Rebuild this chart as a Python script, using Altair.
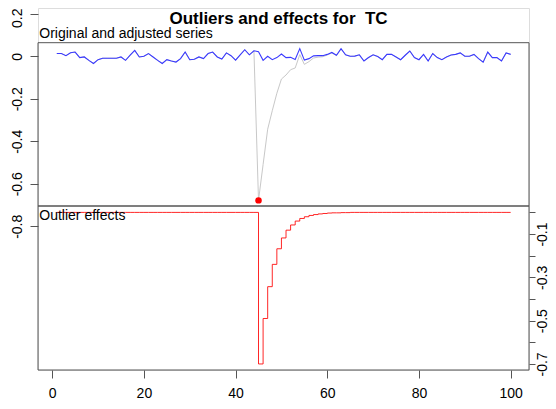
import altair as alt
import pandas as pd

# ---- data ----
t = list(range(1, 101))

adjusted = [
    0.013, 0.013, 0.003, 0.017, 0.020, -0.006, -0.003, -0.019, -0.034, -0.016,
    -0.009, -0.009, -0.009, -0.009, -0.003, -0.019, 0.005, 0.028, -0.003, 0.000,
    0.013, -0.003, -0.019, -0.034, -0.016, -0.022, -0.027, -0.011, 0.020, -0.016,
    -0.014, -0.003, -0.011, 0.013, 0.020, -0.003, -0.013, 0.016, 0.003, -0.018,
    0.007, 0.031, 0.007, 0.026, 0.022, -0.019, 0.000, -0.016, -0.006, 0.011,
    -0.006, -0.005, -0.015, 0.036, -0.018, -0.011, 0.002, 0.003, 0.003, 0.009,
    0.018, 0.005, 0.036, 0.007, 0.000, 0.001, 0.007, -0.022, -0.006, 0.007,
    -0.001, -0.016, 0.009, 0.009, -0.003, -0.016, 0.005, 0.025, -0.006, -0.016,
    0.009, -0.022, 0.013, -0.006, -0.016, -0.003, 0.006, 0.009, 0.016, 0.000,
    0.000, 0.009, -0.011, -0.028, 0.020, -0.006, -0.006, -0.022, 0.016, 0.009,
]

effects = [
    0.0, 0.0, 0.0, 0.0, 0.0, 0.0, 0.0, 0.0, 0.0, 0.0,
    0.0, 0.0, 0.0, 0.0, 0.0, 0.0, 0.0, 0.0, 0.0, 0.0,
    0.0, 0.0, 0.0, 0.0, 0.0, 0.0, 0.0, 0.0, 0.0, 0.0,
    0.0, 0.0, 0.0, 0.0, 0.0, 0.0, 0.0, 0.0, 0.0, 0.0,
    0.0, 0.0, 0.0, 0.0, -0.700, -0.490, -0.343, -0.240, -0.168, -0.118,
    -0.082, -0.058, -0.040, -0.028, -0.020, -0.014, -0.010, -0.007, -0.005, -0.003,
    -0.002, -0.002, -0.001, -0.001, 0.0, 0.0, 0.0, 0.0, 0.0, 0.0,
    0.0, 0.0, 0.0, 0.0, 0.0, 0.0, 0.0, 0.0, 0.0, 0.0,
    0.0, 0.0, 0.0, 0.0, 0.0, 0.0, 0.0, 0.0, 0.0, 0.0,
    0.0, 0.0, 0.0, 0.0, 0.0, 0.0, 0.0, 0.0, 0.0, 0.0,
]

x_ticks = [0, 20, 40, 60, 80, 100]
left_ticks = [0.2, 0.0, -0.2, -0.4, -0.6, -0.8]
right_ticks = [0.0, -0.1, -0.2, -0.3, -0.4, -0.5, -0.6, -0.7]

title_text = "Outliers and effects for\u00a0 TC"
top_label = "Original and adjusted series"
bottom_label = "Outlier effects"

df = pd.DataFrame({"t": t, "adjusted": adjusted, "effect": effects})
df["original"] = df["adjusted"] + df["effect"]
outliers = df[df["effect"] == df["effect"].min()]

FONT = "Liberation Sans"
W, H = 491, 362
AXC = "#555555"

xscale = alt.Scale(domain=[-3.1, 104], nice=False, zero=False)
yL = alt.Scale(domain=[-1.4762, 0.2273], nice=False, zero=False)
yR = alt.Scale(domain=[-0.7279, 0.9441], nice=False, zero=False)

num_label = "(datum.value < 0 ? '-' : '') + format(abs(datum.value), '~g')"

left_axis = alt.Axis(
    orient="left", values=left_ticks, labelExpr=num_label, labelAngle=270,
    labelAlign="center", labelBaseline="bottom", labelPadding=6, tickSize=8,
    labelOffset={"condition": {"test": "datum.value > 0.1", "value": 4}, "value": 0},
    tickColor=AXC, domain=False, grid=False, title=None, labelFontSize=14,
    labelFont=FONT, labelColor="black", labelOverlap=False, labelFlush=False,
)
right_axis = alt.Axis(
    orient="right", values=right_ticks,
    labelExpr="round(abs(datum.value) * 10) % 2 == 1 ? " + num_label + " : ''",
    labelAngle=270, labelAlign="center", labelBaseline="top", labelPadding=0,
    tickSize=6, tickColor=AXC, domain=False, grid=False, title=None,
    labelFontSize=14, labelFont=FONT, labelColor="black", labelOverlap=False,
    labelFlush=False,
)
x_axis = alt.Axis(
    orient="bottom", values=x_ticks, tickSize=8, tickColor=AXC, labelPadding=8,
    domain=False, grid=False, title=None, labelFontSize=14, labelFont=FONT,
    labelColor="black", labelFlush=False, labelOverlap=False,
)

base = alt.Chart(df)
x_enc = alt.X("t:Q", scale=xscale, axis=x_axis)

one = pd.DataFrame({"k": [0]})
boxes = alt.layer(
    alt.Chart(one).mark_rect(fillOpacity=0, stroke=AXC, strokeWidth=1).encode(
        x=alt.value(0), x2=alt.value(W), y=alt.value(34.7), y2=alt.value(198)),
    alt.Chart(one).mark_rect(fillOpacity=0, stroke=AXC, strokeWidth=1).encode(
        x=alt.value(0), x2=alt.value(W), y=alt.value(198), y2=alt.value(H)),
)

grey = base.mark_line(color="#c8c8c8", strokeWidth=1).encode(
    x=x_enc, y=alt.Y("original:Q", scale=yL, axis=left_axis))
blue = base.mark_line(color="#3a3aff", strokeWidth=1.1).encode(
    x=x_enc, y=alt.Y("adjusted:Q", scale=yL, axis=None))
dot = alt.Chart(outliers).mark_circle(color="#ff0000", size=42, opacity=1).encode(
    x=x_enc, y=alt.Y("original:Q", scale=yL, axis=None))
step = base.mark_line(color="#ff0000", strokeWidth=1, opacity=0.85,
                      interpolate="step-after").encode(
    x=x_enc, y=alt.Y("effect:Q", scale=yR, axis=right_axis))

title_mark = alt.Chart(pd.DataFrame({"label": [title_text]})).mark_text(
    font=FONT, fontSize=17, fontWeight="bold", align="center",
    baseline="alphabetic", color="black").encode(
    text="label:N", x=alt.value(240.5), y=alt.value(16))
top_mark = alt.Chart(pd.DataFrame({"label": [top_label]})).mark_text(
    font=FONT, fontSize=14, align="left", baseline="alphabetic",
    color="black").encode(text="label:N", x=alt.value(1.3), y=alt.value(29.5))
bot_mark = alt.Chart(pd.DataFrame({"label": [bottom_label]})).mark_text(
    font=FONT, fontSize=14, align="left", baseline="alphabetic",
    color="black").encode(text="label:N", x=alt.value(1.3), y=alt.value(211.5))

chart = alt.layer(
    boxes, grey, blue, dot, step, title_mark, top_mark, bot_mark
).resolve_scale(y="independent").properties(
    width=W, height=H,
    autosize=alt.AutoSizeParams(type="none"),
    padding={"left": 30, "top": 0, "right": 19, "bottom": 31},
).configure_view(stroke=None).configure(font=FONT, background="white")

chart.save("out.html", embed_options={"renderer": "svg", "actions": False})
